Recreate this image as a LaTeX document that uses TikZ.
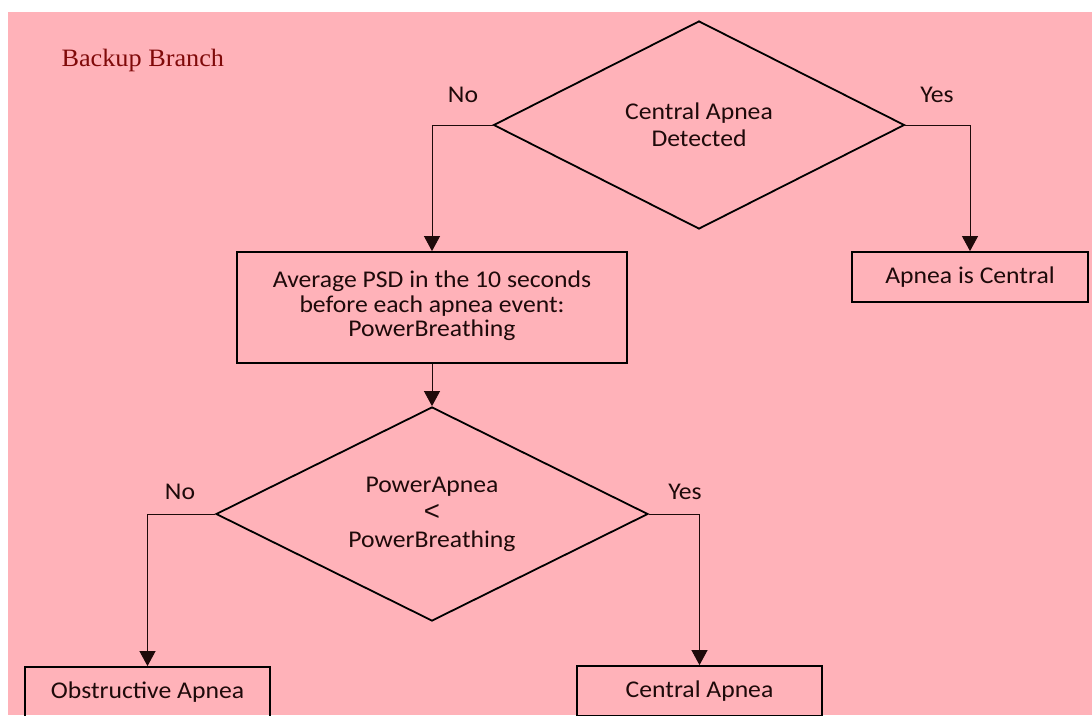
\documentclass[tikz,border=0pt]{standalone}
\usepackage{fontspec}
\usepackage{graphicx}
\setmainfont[FakeStretch=1.07]{Carlito}
\newfontfamily\serifb[FakeStretch=1.05]{Liberation Serif}
\newfontfamily\symf{Liberation Sans}
\usetikzlibrary{shapes.geometric,arrows.meta}
\definecolor{bgpink}{RGB}{255,178,185}
\definecolor{darkred}{RGB}{128,10,10}
\definecolor{inkc}{RGB}{30,10,10}
\begin{document}
\begin{tikzpicture}[x=1pt,y=-1pt,
  every node/.style={text=inkc},
  txt/.style={font=\fontsize{24}{24.5}\selectfont, align=center},
  dtxt/.style={font=\fontsize{24}{27.5}\selectfont, align=center},
  boxn/.style={draw=black, line width=1.8pt, rectangle, inner sep=0pt, txt},
  decn/.style={draw=black, line width=1.8pt, diamond, inner sep=0pt},
  conn/.style={draw=inkc, line width=0.9pt, -{Triangle[length=15pt,width=16pt]}},
  lab/.style={font=\fontsize{24}{25}\selectfont}
]
\useasboundingbox (0,0) rectangle (1092,715);
\fill[white] (0,0) rectangle (1092,715);
\fill[bgpink] (8,12) rectangle (1092,715);

\node[font=\serifb\fontsize{25}{26}\selectfont, text=darkred, anchor=west] (title) at (58,60) {Backup Branch};

\node[decn, minimum width=411pt, minimum height=208pt] (d1) at (699,125) {};
\node[dtxt] (d1t) at (d1.center) {Central Apnea\\Detected};
\node[boxn, minimum width=390pt, minimum height=111pt] (b1) at (432,307.5) {\raisebox{2pt}{\begin{tabular}{@{}c@{}}Average PSD in the 10 seconds\\before each apnea event:\\PowerBreathing\end{tabular}}};
\node[boxn, minimum width=236pt, minimum height=50pt] (b2) at (970,277) {Apnea is Central};
\node[decn, minimum width=432pt, minimum height=214pt] (d2) at (432,514) {};
\node[dtxt] (d2t) at (d2.center) {PowerApnea\\\smash{\raisebox{-1pt}{\scalebox{1.15}{\symf <}}}\\PowerBreathing};
\node[boxn, minimum width=245pt, minimum height=50pt] (b3) at (147.5,692) {Obstructive Apnea};
\node[boxn, minimum width=245pt, minimum height=50pt] (b4) at (699.5,691) {Central Apnea};

\draw[conn] (d1.west) -| (b1.north);
\draw[conn] (d1.east) -| (b2.north);
\draw[conn] (b1.south) -- (d2.north);
\draw[conn] (d2.west) -| (b3.north);
\draw[conn] (d2.east) -| (b4.north);

\node[lab] (l1) at (463,95) {No};
\node[lab] (l2) at (937,95) {Yes};
\node[lab] (l3) at (180,492) {No};
\node[lab] (l4) at (685,492) {Yes};
\end{tikzpicture}
\end{document}
